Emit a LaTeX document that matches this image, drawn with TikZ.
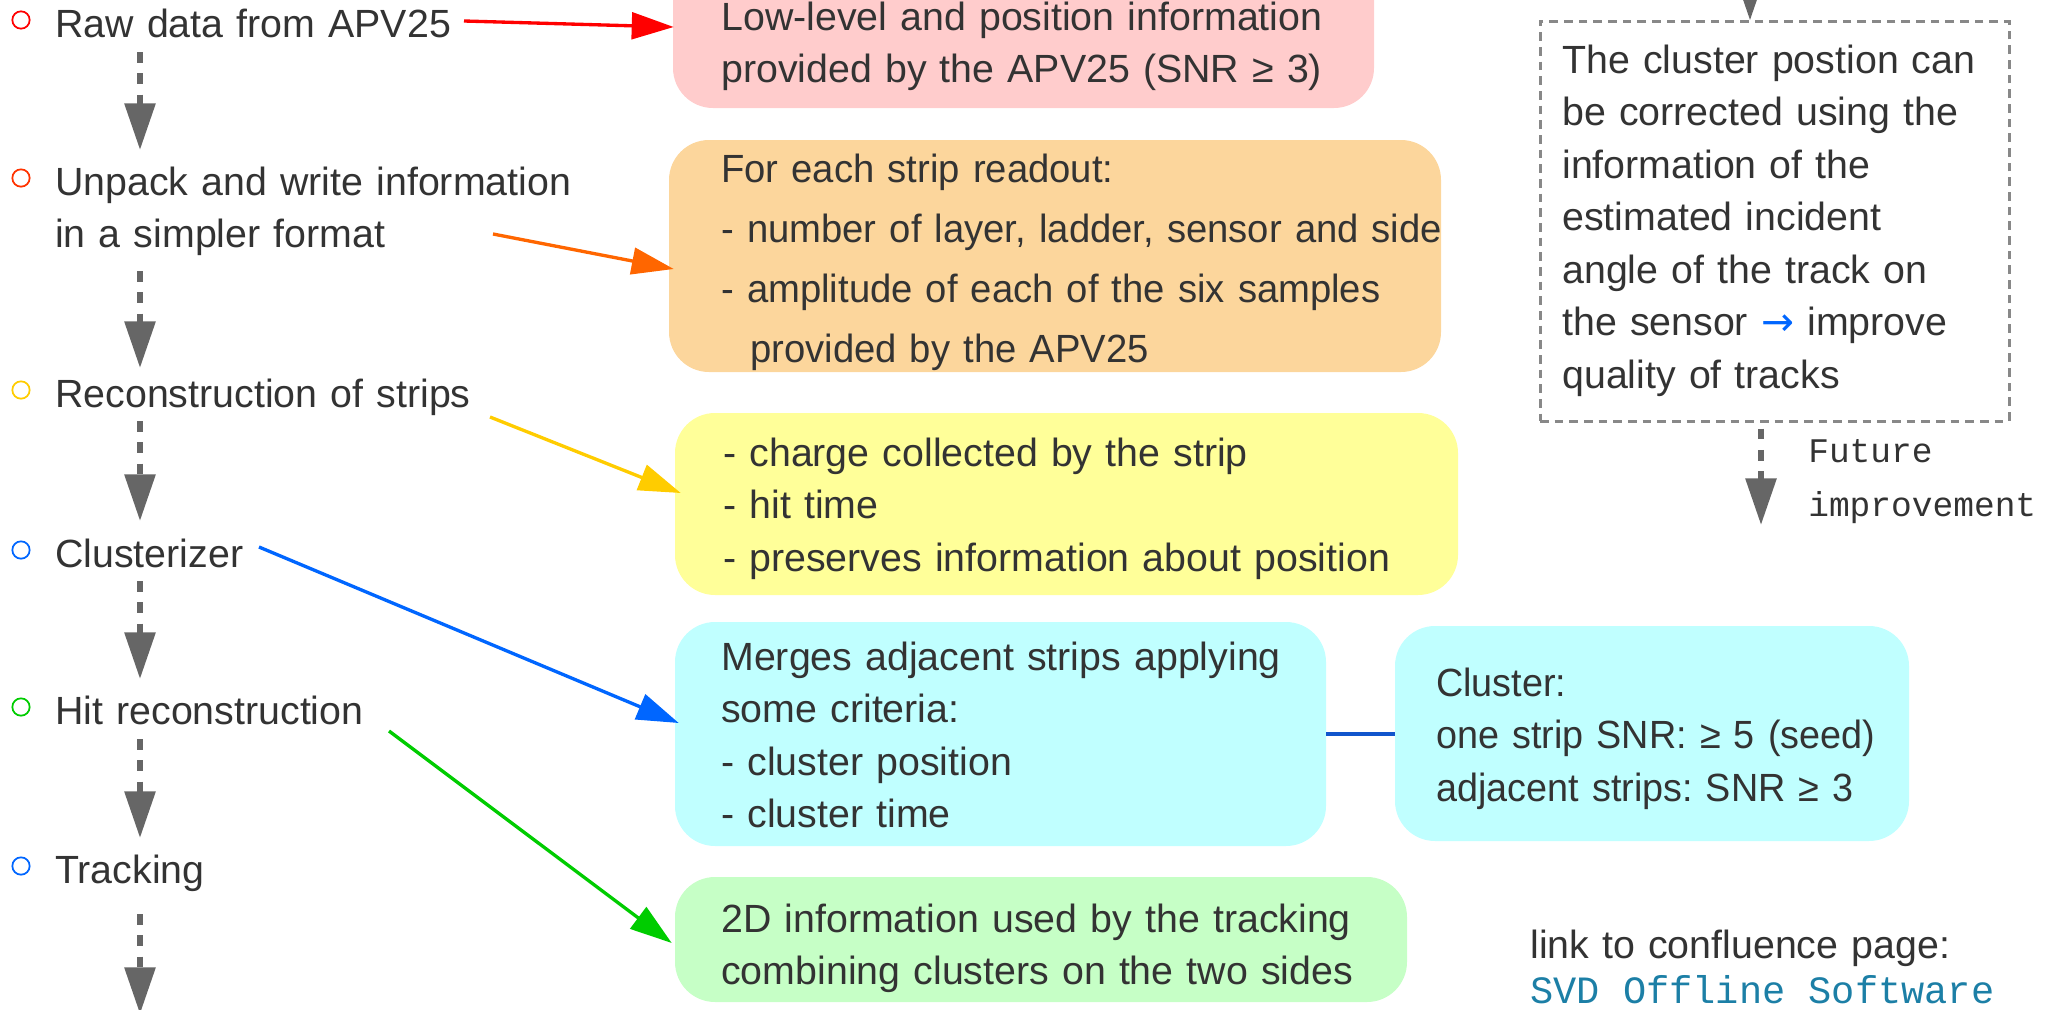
\documentclass[tikz,border=0pt]{standalone}
\usepackage{fontspec}
\setmainfont{Liberation Sans}
\newfontfamily\narrowfont[FakeStretch=0.972]{Liberation Sans}
\newfontfamily\narrowerfont[FakeStretch=0.96]{Liberation Sans}
\newfontfamily\handfont{Liberation Mono}
\newfontfamily\djv{DejaVu Sans}
\usetikzlibrary{arrows.meta}
\definecolor{txt}{HTML}{333333}
\definecolor{agray}{HTML}{666666}
\definecolor{dgray}{HTML}{888888}
\definecolor{pinkc}{HTML}{FFCCCC}
\definecolor{orangec}{HTML}{FCD69C}
\definecolor{yellowc}{HTML}{FFFF99}
\definecolor{cyanc}{HTML}{C0FFFF}
\definecolor{greenc}{HTML}{C6FFC6}
\definecolor{cred}{HTML}{FF0000}
\definecolor{corange}{HTML}{FF6600}
\definecolor{cbul}{HTML}{FF3300}
\definecolor{cyellow}{HTML}{FFCC00}
\definecolor{cblue}{HTML}{0066FF}
\definecolor{cgreen}{HTML}{00CC00}
\definecolor{linkblue}{HTML}{1155CC}
\definecolor{linkc}{HTML}{1C7FA6}
\frenchspacing
\begin{document}
\begin{tikzpicture}[x=0.75pt,y=-0.75pt,
  lbl/.style={anchor=base west, inner sep=0pt, text=txt, align=left, text width=700pt,
    font=\frenchspacing\fontsize{29.5pt}{39.4pt}\selectfont},
  hand/.style={anchor=base west, inner sep=0pt, text=txt, align=left, text width=400pt,
    font=\handfont\fontsize{25.9pt}{40.5pt}\selectfont},
  bullet/.style={circle, draw=#1, line width=1.3pt, minimum size=13pt, inner sep=0pt},
  box/.style={rounded corners=30pt, inner sep=0pt, draw=none, fill=#1},
  garrow/.style={draw=agray, line width=4.5pt, dash pattern=on 8pt off 8pt,
    -{Triangle[length=35pt,width=22.5pt]}},
  carrow/.style={draw=#1, line width=2.5pt, -{Triangle[length=31.5pt,width=20pt,fill=#1]}}
]
\path[use as bounding box] (0,0) rectangle (2049,1010);
\clip (0,0) rectangle (2049,1010);

% boxes
\node[box=pinkc, minimum width=525.75pt, minimum height=126pt] (pink) at (1023.5,24) {};
\node[box=orangec, minimum width=579pt, minimum height=174pt] (orange) at (1055,256) {};
\node[box=yellowc, minimum width=587.25pt, minimum height=136.5pt] (yellow) at (1066.5,504) {};
\node[box=cyanc, minimum width=488.25pt, minimum height=168pt] (cyanA) at (1000.5,734) {};
\node[box=cyanc, minimum width=385.5pt, minimum height=161.25pt] (cyanB) at (1652,733.5) {};
\node[box=greenc, minimum width=549pt, minimum height=93.75pt] (green) at (1041,939.5) {};
\node[draw=dgray, line width=2.25pt, dash pattern=on 6.5pt off 4.5pt, inner sep=0pt,
  minimum width=351.75pt, minimum height=300pt] (dbox) at (1774.5,221) {};

% box texts
\node[lbl] (pinkt) at (721,30) {Low-level and position information\\provided by the APV25 (SNR ≥ 3)};
\node[lbl, font=\narrowfont\frenchspacing\fontsize{29.5pt}{39.4pt}\selectfont] (oranget) at (721,182) {For each strip readout:\\[5.6pt]- number of layer, ladder, sensor and side\\[5.6pt]- amplitude of each of the six samples\\[5.6pt]\hspace*{21.75pt}provided by the APV25};
\node[lbl] (yellowt) at (723,466) {- charge collected by the strip\\- hit time\\- preserves information about position};
\node[lbl] (cyanAt) at (721,670) {Merges adjacent strips applying\\some criteria:\\- cluster position\\- cluster time};
\node[lbl, font=\narrowerfont\frenchspacing\fontsize{29.5pt}{39.4pt}\selectfont] (cyanBt) at (1436,696) {Cluster:\\one strip SNR: ≥ 5 (seed)\\adjacent strips: SNR ≥ 3};
\node[lbl] (greent) at (721,932) {2D information used by the tracking\\combining clusters on the two sides};
\node[lbl] (dboxt) at (1562,73) {The cluster postion can\\be corrected using the\\information of the\\estimated incident\\angle of the track on\\the sensor {\djv\color{cblue}→} improve\\quality of tracks};
\node[lbl] (link) at (1530,958) {link to confluence page:};
\node[anchor=base west, inner sep=0pt, text=linkc, font=\handfont\fontsize{29pt}{35pt}\selectfont] (svd) at (1530,1003) {SVD Offline Software};
\node[hand] (future) at (1808,462) {Future\\improvement};

% left column
\node[lbl] (raw) at (55,37) {Raw data from APV25};
\node[lbl] (unpack) at (55,195) {Unpack and write information\\in a simpler format};
\node[lbl] (recon) at (55,407) {Reconstruction of strips};
\node[lbl] (clus) at (55,567) {Clusterizer};
\node[lbl] (hit) at (55,724) {Hit reconstruction};
\node[lbl] (track) at (55,883) {Tracking};

\node[bullet=cred] (b1) at (21,20) {};
\node[bullet=cbul] (b2) at (21,178) {};
\node[bullet=cyellow] (b3) at (21,390) {};
\node[bullet=cblue] (b4) at (21,550) {};
\node[bullet=cgreen] (b5) at (21,707) {};
\node[bullet=cblue] (b6) at (21,866) {};

% gray dashed flow arrows
\coordinate (trackout) at (140,1014);
\draw[garrow] ([shift={(85,15)}]raw.base west) -- ([shift={(85,-45)}]unpack.base west);
\draw[garrow] ([shift={(85,76)}]unpack.base west) -- ([shift={(85,-39)}]recon.base west);
\draw[garrow] ([shift={(85,14)}]recon.base west) -- ([shift={(85,-46)}]clus.base west);
\draw[garrow] ([shift={(85,14)}]clus.base west) -- ([shift={(85,-45)}]hit.base west);
\draw[garrow] ([shift={(85,15)}]hit.base west) -- ([shift={(85,-45)}]track.base west);
\draw[garrow] ([shift={(85,31)}]track.base west) -- (trackout);

% colored arrows
\draw[carrow=cred] ([shift={(409,-16)}]raw.base west) -- ([shift={(1,3)}]pink.west);
\draw[carrow=corange] ([shift={(438,39)}]unpack.base west) -- ([shift={(5,13)}]orange.west);
\draw[carrow=cyellow] ([shift={(435,10)}]recon.base west) -- ([shift={(6,-11)}]yellow.west);
\draw[carrow=cblue] ([shift={(204,-20)}]clus.base west) -- ([shift={(4,-11)}]cyanA.west);
\draw[carrow=cgreen] ([shift={(334,7)}]hit.base west) -- ([shift={(-3,3.5)}]green.west);

% cluster link
\draw[draw=linkblue, line width=3pt] (cyanA.east) -- (cyanA.east -| cyanB.west);

% dashed box arrows
\coordinate (topin) at (1750,-60);
\coordinate (futureout) at (1761,525);
\draw[garrow] (topin) -- ([shift={(-24.5,1)}]dbox.north);
\draw[garrow] ([shift={(-13.5,6)}]dbox.south) -- (futureout);
\end{tikzpicture}
\end{document}
